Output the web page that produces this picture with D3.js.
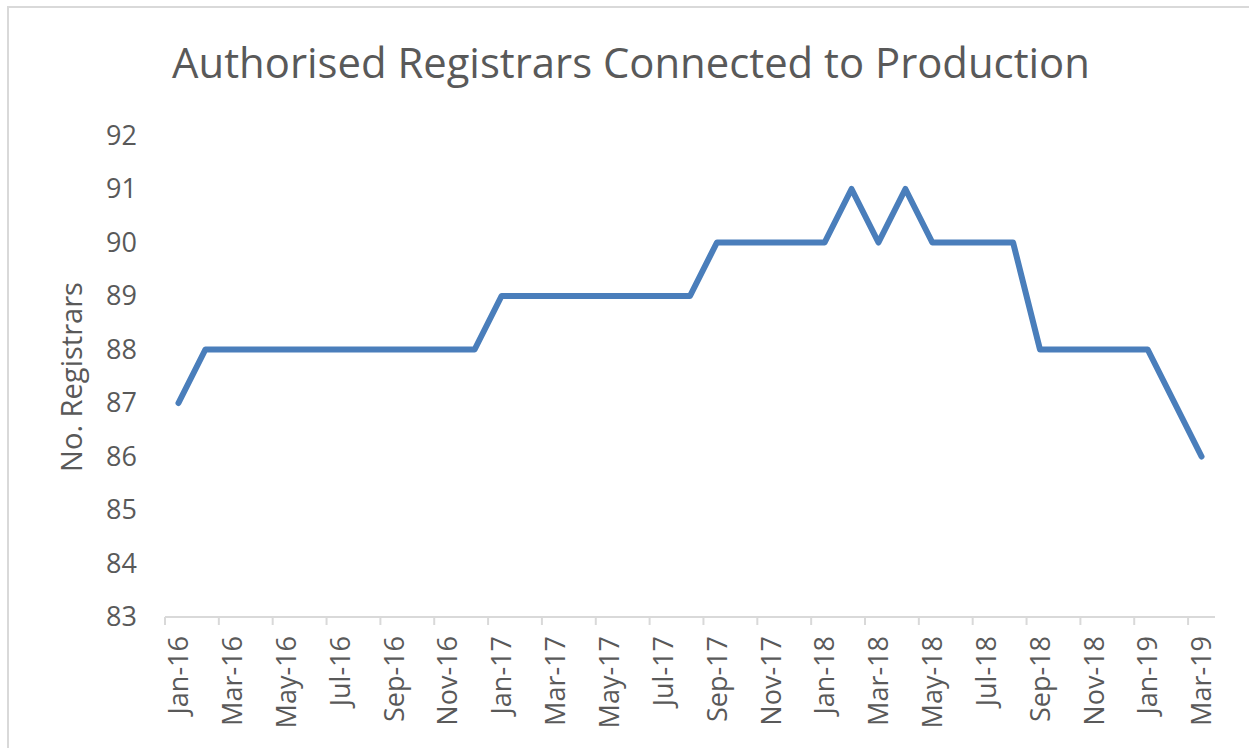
<!DOCTYPE html>
<html>
<head>
<meta charset="utf-8">
<script src="https://cdn.jsdelivr.net/npm/d3@7"></script>
<style>
    body { margin: 0; background: #fff; }
    text { font-family: "Open Sans", "Noto Sans", sans-serif; fill: #595959; }
</style>
</head>
<body>
<div id="chart"></div>
<script>
// chart data
var months = [
    "Jan-16", "Feb-16", "Mar-16", "Apr-16", "May-16", "Jun-16", "Jul-16", "Aug-16", "Sep-16", "Oct-16", "Nov-16", "Dec-16",
    "Jan-17", "Feb-17", "Mar-17", "Apr-17", "May-17", "Jun-17", "Jul-17", "Aug-17", "Sep-17", "Oct-17", "Nov-17", "Dec-17",
    "Jan-18", "Feb-18", "Mar-18", "Apr-18", "May-18", "Jun-18", "Jul-18", "Aug-18", "Sep-18", "Oct-18", "Nov-18", "Dec-18",
    "Jan-19", "Feb-19", "Mar-19"
];
var registrars = [
    87, 88, 88, 88, 88, 88, 88, 88, 88, 88, 88, 88,
    89, 89, 89, 89, 89, 89, 89, 89, 90, 90, 90, 90,
    90, 91, 90, 91, 90, 90, 90, 90, 88, 88, 88, 88,
    88, 87, 86
];
var yTicks = [83, 84, 85, 86, 87, 88, 89, 90, 91, 92];
var chartTitle = "Authorised Registrars Connected to Production";
var yTitle = "No. Registrars";

var W = 1249, H = 748;
var plot = {left: 165, right: 1215, top: 135.5, bottom: 617};

var svg = d3.select("#chart").append("svg")
    .attr("width", W)
    .attr("height", H);

svg.append("rect").attr("width", W).attr("height", H).attr("fill", "#fff");

// outer frame (only top and left visible in the picture)
svg.append("path")
    .attr("d", "M8," + H + "V7H" + W)
    .attr("fill", "none")
    .attr("stroke", "#d9d9d9")
    .attr("stroke-width", 2);

// scales
var x = d3.scaleBand().domain(months).range([plot.left, plot.right]).paddingInner(0).paddingOuter(0);
var y = d3.scaleLinear().domain([83, 92]).range([plot.bottom, plot.top]);
var bw = x.bandwidth();

// fit a text element to a target width
function fitWidth(sel, target) {
    var fs = parseFloat(sel.style("font-size"));
    var len = sel.node().getComputedTextLength();
    sel.style("font-size", (fs * target / len) + "px");
}

// title
var title = svg.append("text")
    .attr("x", 631)
    .attr("y", 78)
    .attr("text-anchor", "middle")
    .style("font-size", "40px")
    .text(chartTitle);
fitWidth(title, 918);

// y axis labels
var yAxis = d3.axisLeft(y).tickValues(yTicks).tickSize(0).tickPadding(0);
var gy = svg.append("g")
    .attr("transform", "translate(137,0)")
    .call(yAxis);
gy.select(".domain").remove();
gy.selectAll("text")
    .style("font-size", "27px")
    .attr("font-family", null)
    .attr("fill", null);

// y axis title
var yt = svg.append("text")
    .attr("transform", "translate(82,377) rotate(-90)")
    .attr("text-anchor", "middle")
    .style("font-size", "25px")
    .text(yTitle);
fitWidth(yt, 190);

// x axis line and tick marks (tick every second month, on the category boundary)
var gx = svg.append("g");
gx.append("line")
    .attr("x1", plot.left).attr("x2", plot.right)
    .attr("y1", plot.bottom).attr("y2", plot.bottom)
    .attr("stroke", "#d9d9d9").attr("stroke-width", 2);

var labelled = months.filter(function(d, i) { return i % 2 === 0; });

gx.selectAll(".tickmark").data(labelled).enter()
    .append("line")
    .attr("class", "tickmark")
    .attr("x1", function(d) { return x(d); })
    .attr("x2", function(d) { return x(d); })
    .attr("y1", plot.bottom).attr("y2", plot.bottom + 8)
    .attr("stroke", "#d9d9d9").attr("stroke-width", 2);

gx.selectAll(".xlabel").data(labelled).enter()
    .append("text")
    .attr("class", "xlabel")
    .attr("transform", function(d) {
        return "translate(" + (x(d) + bw / 2) + "," + 636 + ") rotate(-90)";
    })
    .attr("text-anchor", "end")
    .attr("dy", "0.36em")
    .style("font-size", "27px")
    .text(function(d) { return d; });

// line
var line = d3.line()
    .x(function(d, i) { return x(months[i]) + bw / 2; })
    .y(function(d) { return y(d); });

svg.append("path")
    .datum(registrars)
    .attr("d", line)
    .attr("fill", "none")
    .attr("stroke", "#4a7ebb")
    .attr("stroke-width", 6)
    .attr("stroke-linejoin", "round")
    .attr("stroke-linecap", "round");
</script>
</body>
</html>
